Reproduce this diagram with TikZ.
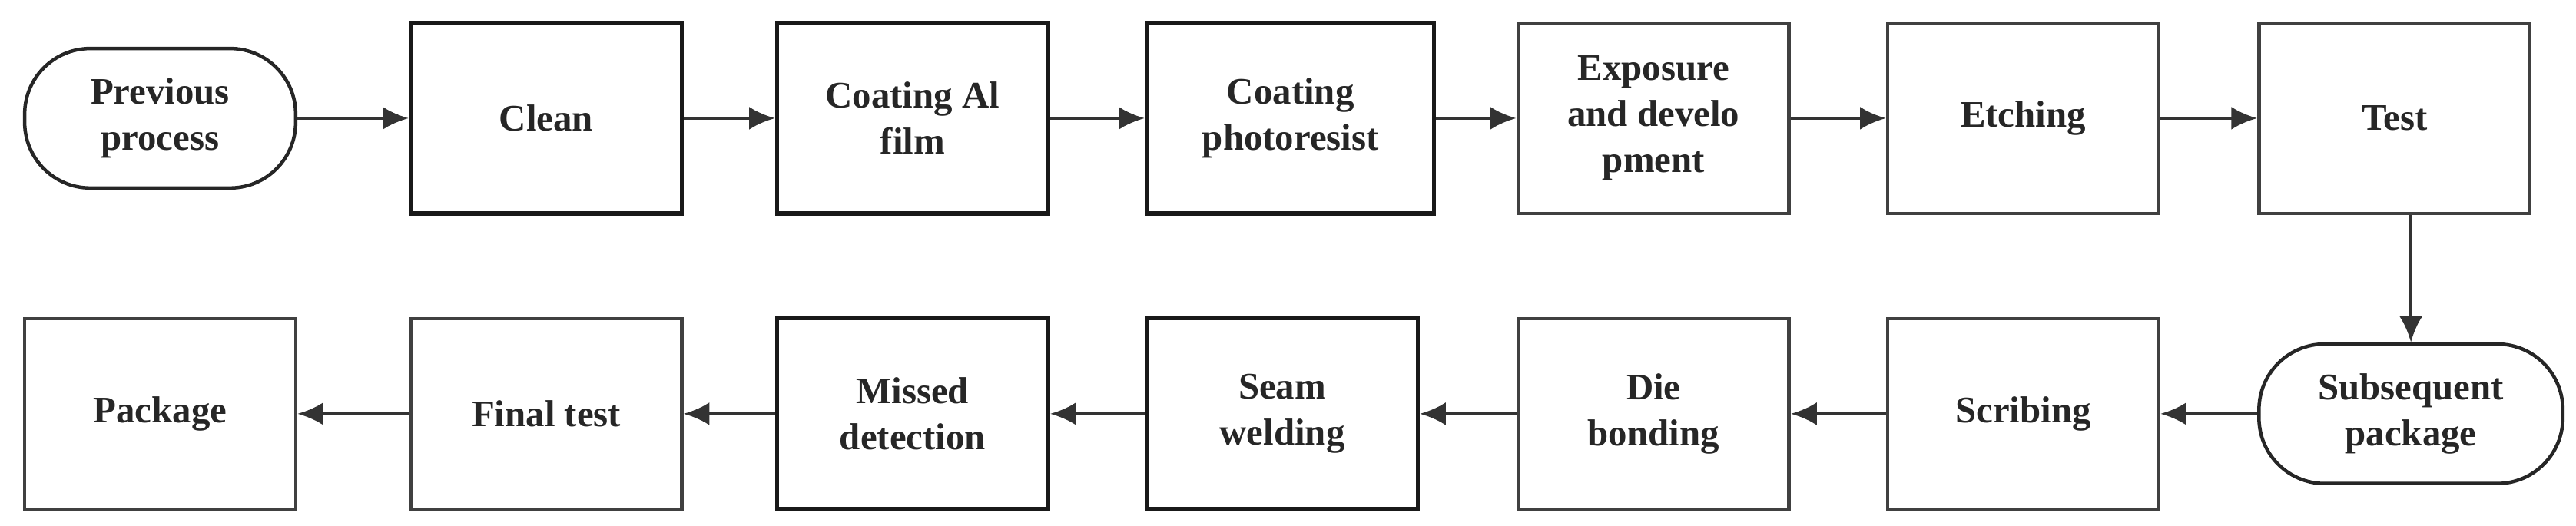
\documentclass[tikz,border=0pt]{standalone}
\usepackage{fontspec}
\setmainfont{Liberation Serif}
\usetikzlibrary{arrows.meta}
\begin{document}
\begin{tikzpicture}[x=0.02cm,y=-0.02cm,
 box/.style={draw=#1,line width=1.2pt,minimum height=2.32cm,align=center,font=\fontsize{13}{16}\selectfont\bfseries,text=black!85,inner sep=2pt},
 box/.default={black!75},
 dk/.style={box=black!90,line width=1.4pt},
 rr/.style={box=black!85,rounded corners=0.8cm,minimum height=1.7cm},
 ar/.style={-{Latex[length=9pt,width=8pt]},line width=1.2pt,draw=black!80}]
\useasboundingbox (0,0) rectangle (1568,320);
\node[rr,minimum width=3.3cm] (pp) at (97.5,72) {Previous\\process};
\node[dk,minimum width=3.3cm] (cl) at (332.5,72) {Clean};
\node[dk,minimum width=3.3cm] (al) at (555.5,72) {Coating Al\\film};
\node[dk,minimum width=3.5cm] (ph) at (785.5,72) {Coating\\photoresist};
\node[box,minimum width=3.3cm] (ex) at (1006.5,72) {Exposure\\and develo\\pment};
\node[box,minimum width=3.3cm] (et) at (1231.5,72) {Etching};
\node[box,minimum width=3.3cm] (te) at (1457.5,72) {Test};
\node[rr,minimum width=3.7cm] (sp) at (1467.5,252) {Subsequent\\package};
\node[box,minimum width=3.3cm] (sc) at (1231.5,252) {Scribing};
\node[box,minimum width=3.3cm] (db) at (1006.5,252) {Die\\bonding};
\node[dk,minimum width=3.3cm] (sw) at (780.5,252) {Seam\\welding};
\node[dk,minimum width=3.3cm] (md) at (555.5,252) {Missed\\detection};
\node[box,minimum width=3.3cm] (ft) at (332.5,252) {Final test};
\node[box,minimum width=3.3cm] (pk) at (97.5,252) {Package};
\draw[ar] (pp) -- (cl);
\draw[ar] (cl) -- (al);
\draw[ar] (al) -- (ph);
\draw[ar] (ph) -- (ex);
\draw[ar] (ex) -- (et);
\draw[ar] (et) -- (te);
\draw[ar] (te.south -| 1467.5,0) -- (sp);
\draw[ar] (sp) -- (sc);
\draw[ar] (sc) -- (db);
\draw[ar] (db) -- (sw);
\draw[ar] (sw) -- (md);
\draw[ar] (md) -- (ft);
\draw[ar] (ft) -- (pk);
\end{tikzpicture}
\end{document}
